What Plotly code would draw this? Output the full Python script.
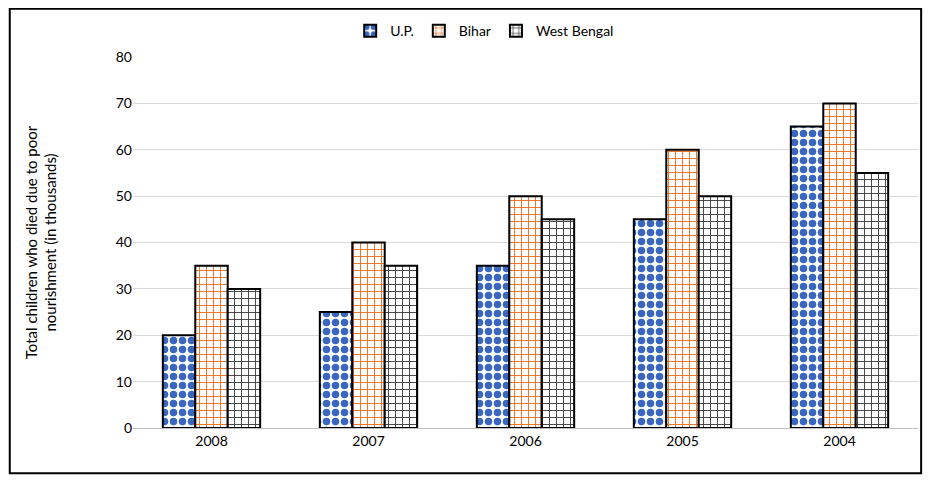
import plotly.graph_objects as go

years = ["2008", "2007", "2006", "2005", "2004"]
up = [20, 25, 35, 45, 65]
bihar = [35, 40, 50, 60, 70]
west_bengal = [30, 35, 45, 50, 55]

font = "Lato"
fig = go.Figure()
fig.add_trace(go.Bar(name="U.P.", x=years, y=up,
                     marker=dict(color="white", line=dict(color="black", width=2),
                                 pattern=dict(shape=".", fgcolor="#3A66C0", bgcolor="white",
                                              fgopacity=1, size=9, solidity=0.55))))
fig.add_trace(go.Bar(name="Bihar", x=years, y=bihar,
                     marker=dict(color="white", line=dict(color="black", width=2),
                                 pattern=dict(shape="+", fgcolor="#E8711F", bgcolor="white",
                                              fgopacity=1, size=7, solidity=0.25))))
fig.add_trace(go.Bar(name="West Bengal", x=years, y=west_bengal,
                     marker=dict(color="white", line=dict(color="black", width=2),
                                 pattern=dict(shape="+", fgcolor="#404040", bgcolor="white",
                                              fgopacity=1, size=7, solidity=0.25))))

fig.update_layout(
    width=915, height=467,
    margin=dict(l=125, r=5, t=49, b=47),
    paper_bgcolor="white", plot_bgcolor="white",
    barmode="group", bargap=0.38, bargroupgap=0,
    font=dict(family=font, size=14, color="black"),
    legend=dict(orientation="h", x=0.448, xanchor="center", y=1.07, yanchor="middle",
                font=dict(size=14), itemwidth=30, traceorder="normal"),
    xaxis=dict(showgrid=False, showline=True, linecolor="#BFBFBF", ticks="",
               tickfont=dict(size=14)),
    yaxis=dict(range=[0, 80], dtick=10, showgrid=True, gridcolor="#D9D9D9",
               zeroline=False, ticks="", tickfont=dict(size=14),
               title=dict(text="Total children who died due to poor<br>nourishment (in thousands)",
                          font=dict(size=15), standoff=55)),
    shapes=[dict(type="rect", xref="paper", yref="paper",
                 x0=-0.157, x1=1.004, y0=-0.122, y1=1.13,
                 line=dict(color="black", width=2), fillcolor="rgba(0,0,0,0)")]
)
fig.write_html("out.html")
